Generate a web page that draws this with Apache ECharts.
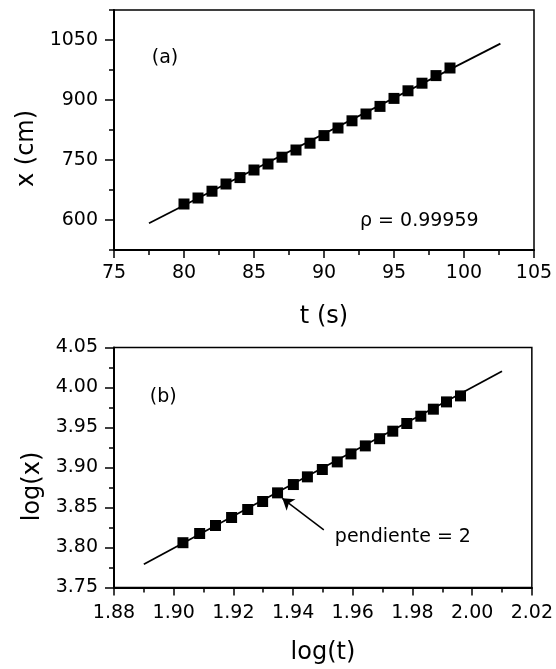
<!DOCTYPE html>
<html>
<head>
<meta charset="utf-8">
<script src="https://cdn.jsdelivr.net/npm/echarts@6/dist/echarts.min.js"></script>
<style>html,body{margin:0;padding:0;background:#fff}#c{width:556px;height:669px}</style>
</head>
<body>
<div id="c"></div>
<script>
// ---- Panel (a) data ----
const tValues = [80,81,82,83,84,85,86,87,88,89,90,91,92,93,94,95,96,97,98,99];
const xValues = [640,655,672,690,706,725,740,757,775,792,811,830,848,865,884,904,923,942,961,980];
const fitA = [[77.5, 592], [102.6, 1041]];
const xTicksA = [75,80,85,90,95,100,105];
const yMajorA = [600,750,900,1050];
const yMinorA = [525,675,825,975,1125];
const rhoText = 'ρ = 0.99959';

// ---- Panel (b) data ----
const logT = [1.9031,1.9087,1.9140,1.9194,1.9248,1.9298,1.9348,1.9401,1.9448,1.9498,1.9548,1.9594,1.9642,1.9690,1.9734,1.9781,1.9828,1.9870,1.9914,1.9961];
const logX = [3.8060,3.8175,3.8275,3.8375,3.8475,3.8575,3.8683,3.8787,3.8883,3.8975,3.9070,3.9170,3.9270,3.9360,3.9454,3.9550,3.9641,3.9729,3.9820,3.9895];
const fitB = [[1.89, 3.779], [2.01, 4.0204]];
const arrowB = [[1.9503, 3.822], [1.9364, 3.8615]];
const slopeText = 'pendiente = 2';

const FONT = 'DejaVu Sans';
const chart = echarts.init(document.getElementById('c'), null, {renderer: 'canvas'});

const axisCommon = {
  axisLine: {show: true, onZero: false, lineStyle: {color: '#000', width: 2}},
  axisTick: {show: true, inside: false, length: 8, lineStyle: {color: '#000', width: 1.5}},
  minorTick: {show: true, splitNumber: 2, length: 5, lineStyle: {color: '#000', width: 1.5}},
  splitLine: {show: false},
  axisLabel: {color: '#000', fontFamily: FONT, fontSize: 19, margin: 14},
  nameTextStyle: {color: '#000', fontFamily: FONT, fontSize: 24},
  nameLocation: 'middle'
};

function textMark(coord, text) {
  return {coord: coord, symbol: 'circle', symbolSize: 0,
    label: {show: true, position: 'right', distance: 0, formatter: text,
      color: '#000', fontFamily: FONT, fontSize: 19}};
}

const option = {
  backgroundColor: '#fff',
  animation: false,
  grid: [
    {left: 114, top: 10, width: 420, height: 240, show: true, borderColor: '#000', borderWidth: 1.5, backgroundColor: 'transparent'},
    {left: 114, top: 347.5, width: 420, height: 240, show: true, borderColor: '#000', borderWidth: 1.5, backgroundColor: 'transparent'}
  ],
  xAxis: [
    Object.assign({}, axisCommon, {gridIndex: 0, type: 'value', min: xTicksA[0], max: xTicksA[xTicksA.length-1], interval: 5,
      name: 't (s)', nameGap: 55,
      axisLabel: Object.assign({}, axisCommon.axisLabel, {formatter: v => String(v)})}),
    Object.assign({}, axisCommon, {gridIndex: 1, type: 'value', min: 1.88, max: 2.02, interval: 0.02,
      name: 'log(t)', nameGap: 53,
      axisLabel: Object.assign({}, axisCommon.axisLabel, {margin: 16, formatter: v => v.toFixed(2)})})
  ],
  yAxis: [
    Object.assign({}, axisCommon, {gridIndex: 0, type: 'value', min: 525, max: 1125,
      name: 'x (cm)', nameGap: 75,
      nameTextStyle: Object.assign({}, axisCommon.nameTextStyle, {padding: [0, 37, 0, 0]}),
      minorTick: {show: false},
      axisTick: {show: true, length: 9, customValues: yMajorA, lineStyle: {color: '#000', width: 1.5}},
      axisLabel: Object.assign({}, axisCommon.axisLabel, {margin: 16, customValues: yMajorA, formatter: v => String(Math.round(v))})}),
    {gridIndex: 0, type: 'value', min: 525, max: 1125, position: 'left', offset: 0,
      axisLine: {show: false}, splitLine: {show: false}, axisLabel: {show: false},
      axisTick: {show: true, length: 5, customValues: yMinorA, lineStyle: {color: '#000', width: 1.5}}},
    Object.assign({}, axisCommon, {gridIndex: 1, type: 'value', min: 3.75, max: 4.05, interval: 0.05,
      name: 'log(x)', nameGap: 69,
      nameTextStyle: Object.assign({}, axisCommon.nameTextStyle, {padding: [0, 38, 0, 0]}),
      axisTick: Object.assign({}, axisCommon.axisTick, {length: 9}),
      axisLabel: Object.assign({}, axisCommon.axisLabel, {margin: 16, formatter: v => v.toFixed(2)})})
  ],
  series: [
    {type: 'line', xAxisIndex: 0, yAxisIndex: 0, data: fitA, symbol: 'none',
      lineStyle: {color: '#000', width: 1.8}, z: 2},
    {type: 'scatter', xAxisIndex: 0, yAxisIndex: 0, data: tValues.map((t, i) => [t, xValues[i]]),
      symbol: 'rect', symbolSize: 11, itemStyle: {color: '#000', opacity: 1}, z: 3,
      markPoint: {silent: true, data: [textMark([77.7, 1006], '(a)'), textMark([92.57, 598], rhoText)]}},
    {type: 'line', xAxisIndex: 1, yAxisIndex: 2, data: fitB, symbol: 'none',
      lineStyle: {color: '#000', width: 1.8}, z: 2},
    {type: 'scatter', xAxisIndex: 1, yAxisIndex: 2, data: logT.map((t, i) => [t, logX[i]]),
      symbol: 'rect', symbolSize: 11, itemStyle: {color: '#000', opacity: 1}, z: 3,
      markPoint: {silent: true, data: [textMark([1.892, 3.9885], '(b)'), textMark([1.954, 3.8131], slopeText)]},
      markLine: {silent: true, symbol: ['none', 'arrow'], symbolSize: 11, animation: false,
        lineStyle: {color: '#000', width: 1.5, type: 'solid'}, label: {show: false},
        data: [[{coord: arrowB[0]}, {coord: arrowB[1]}]]}}
  ]
};
chart.setOption(option);
</script>
</body>
</html>
